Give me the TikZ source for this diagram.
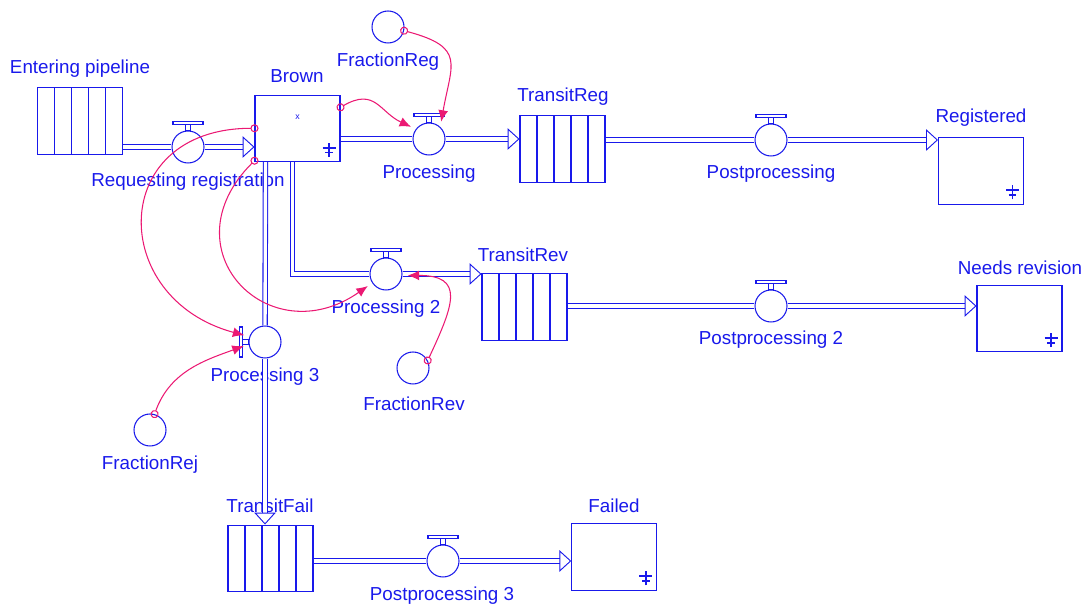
\documentclass[tikz,border=0pt]{standalone}
\usepackage{fontspec}
\setmainfont{Liberation Sans}
\usetikzlibrary{arrows.meta,calc,decorations.markings}

\definecolor{flowblue}{RGB}{25,25,235}
\definecolor{linkpink}{RGB}{235,25,115}

\begin{document}
\begin{tikzpicture}[x=0.02cm, y=0.02cm, line width=.6pt, text=flowblue,
  lbl/.style={inner sep=0pt, font=\fontsize{10.7}{12}\selectfont},
  stock/.style={draw=flowblue, rectangle, minimum width=1.7cm, minimum height=1.33cm, inner sep=0pt,
    path picture={
      \draw[flowblue, line width=1pt] ($(path picture bounding box.south east)+(-6.2pt,2.8pt)$) -- ++(0pt,8pt);
      \draw[flowblue, line width=1.1pt] ($(path picture bounding box.south east)+(-9.9pt,7.9pt)$) -- ++(7.4pt,0pt);
      \draw[flowblue, line width=1pt] ($(path picture bounding box.south east)+(-8.4pt,5.1pt)$) -- ++(4.4pt,0pt);}},
  conveyor/.style={draw=flowblue, rectangle, minimum width=1.7cm, minimum height=1.33cm, inner sep=0pt,
    path picture={\foreach \i in {1,...,4}
      \draw[flowblue] ($(path picture bounding box.south west)!\i/5!(path picture bounding box.south east)$)
        -- ($(path picture bounding box.north west)!\i/5!(path picture bounding box.north east)$);}},
  valve/.style={circle, draw=flowblue, fill=white, minimum size=0.64cm, inner sep=0pt},
  aux/.style={circle, draw=flowblue, minimum size=0.64cm, inner sep=0pt},
  handle/.style={draw=flowblue, fill=white},
  pipe/.style={draw=flowblue, double=white, double distance=1.9pt},
  flow/.style={pipe, shorten >=2pt, postaction={decorate, decoration={markings, mark=at position 1 with {
      \fill[flowblue] (0pt,0pt) -- (-6.8pt,6.2pt) -- (-6.8pt,-6.2pt) -- cycle;
      \fill[white] (-0.9pt,0pt) -- (-6.2pt,4.8pt) -- (-6.2pt,-4.8pt) -- cycle;}}}},
  link/.style={draw=linkpink, arrows={Circle[open,length=4.6pt]-Latex[length=6.5pt,width=5.6pt]},
    shorten <=-2.3pt, shorten >=3pt}]
  \useasboundingbox (0,0) rectangle (1085,608);

  % stocks and conveyors
  \node[conveyor] (enter) at (80,487) {};
  \node[stock] (brown) at (297.5,479.7) {};
  \node[inner sep=0pt, font=\fontsize{5}{6}\selectfont] (brownmark) at (297.5,491) {x};
  \node[conveyor] (treg) at (562.5,459) {};
  \node[stock] (reg) at (981,437) {};
  \node[conveyor] (trev) at (524.5,301) {};
  \node[stock] (needs) at (1019.5,289.3) {};
  \node[conveyor] (tfail) at (270.5,49.7) {};
  \node[stock] (failed) at (614.3,51) {};

  % valves
  \node[valve] (req) at (188,461) {};
  \node[valve] (proc) at (429,469) {};
  \node[valve] (post) at (771,468) {};
  \node[valve] (proc2) at (386,334) {};
  \node[valve] (post2) at (771,302) {};
  \node[valve] (proc3) at (265,266) {};
  \node[valve] (post3) at (443,47) {};

  % auxiliaries
  \node[aux] (freg) at (388,581) {};
  \node[aux] (frev) at (413,240) {};
  \node[aux] (frej) at (150,178) {};

  % labels
  \node[lbl] (lblenter) at (80,539) {Entering pipeline};
  \node[lbl] (lblreq) at (188,426) {Requesting registration};
  \node[lbl] (lblbrown) at (297,532) {Brown};
  \node[lbl] (lblproc) at (429,434) {Processing};
  \node[lbl] (lbltreg) at (563,511) {TransitReg};
  \node[lbl] (lblfreg) at (388,546) {FractionReg};
  \node[lbl] (lblpost) at (771,434) {Postprocessing};
  \node[lbl] (lblreg) at (981,490) {Registered};
  \node[lbl] (lblproc2) at (386,299) {Processing 2};
  \node[lbl] (lbltrev) at (523,353) {TransitRev};
  \node[lbl] (lblpost2) at (771,268) {Postprocessing 2};
  \node[lbl] (lblneeds) at (1020,340) {Needs revision};
  \node[lbl] (lblfrev) at (414,204) {FractionRev};
  \node[lbl] (lblproc3) at (265,231) {Processing 3};
  \node[lbl] (lblfrej) at (150,143) {FractionRej};
  \node[lbl] (lbltfail) at (270,102) {TransitFail};
  \node[lbl] (lblpost3) at (442,12) {Postprocessing 3};
  \node[lbl] (lblfail) at (614,102) {Failed};

  % pipes
  \coordinate (b2) at ($(brown.south)+(-5,0)$);
  \coordinate (b3) at ($(brown.south)+(-32,0)$);
  \draw[pipe] (enter.east |- req) -- (req);
  \draw[flow] (req) -- (req -| brown.west);
  \draw[pipe] (brown.east |- proc) -- (proc);
  \draw[flow] (proc) -- (proc -| treg.west);
  \draw[pipe] (treg.east |- post) -- (post);
  \draw[flow] (post) -- (post -| reg.west);
  \draw[pipe] (b2) |- (proc2);
  \draw[flow] (proc2) -- (proc2 -| trev.west);
  \draw[pipe] (trev.east |- post2) -- (post2);
  \draw[flow] (post2) -- (post2 -| needs.west);
  \draw[pipe] (b3) -- (proc3);
  \draw[flow] (proc3) -- (proc3 |- tfail.north);
  \draw[pipe] (tfail.east |- post3) -- (post3);
  \draw[flow] (post3) -- (post3 -| failed.west);

  % valve handles
  \foreach \v in {req,proc,post,proc2,post2,post3} {
    \draw[handle] ($(\v.north)+(-2.5,0)$) rectangle ($(\v.north)+(2.5,6)$);
    \draw[handle] ($(\v.north)+(-15,6)$) rectangle ($(\v.north)+(15,9)$);
  }
  \draw[handle] ($(proc3.west)+(0,-2.5)$) rectangle ($(proc3.west)+(-6,2.5)$);
  \draw[handle] ($(proc3.west)+(-6,-15)$) rectangle ($(proc3.west)+(-9,15)$);

  % links
  \draw[link] (brown.26) to[out=30, in=155, looseness=1.3] (proc.143);
  \draw[link] (freg.-13) to[out=-15, in=80, looseness=1.6] (proc.47);
  \draw[link] (brown.west) to[out=180, in=165, looseness=1.8] (proc3.161);
  \draw[link] (brown.217) to[out=225, in=215, looseness=1.9] (proc2.213);
  \draw[link] (frev.27) to[out=65, in=0, looseness=1.8] (proc2.-5);
  \draw[link] (frej.74) to[out=70, in=200] (proc3.188);
\end{tikzpicture}
\end{document}
